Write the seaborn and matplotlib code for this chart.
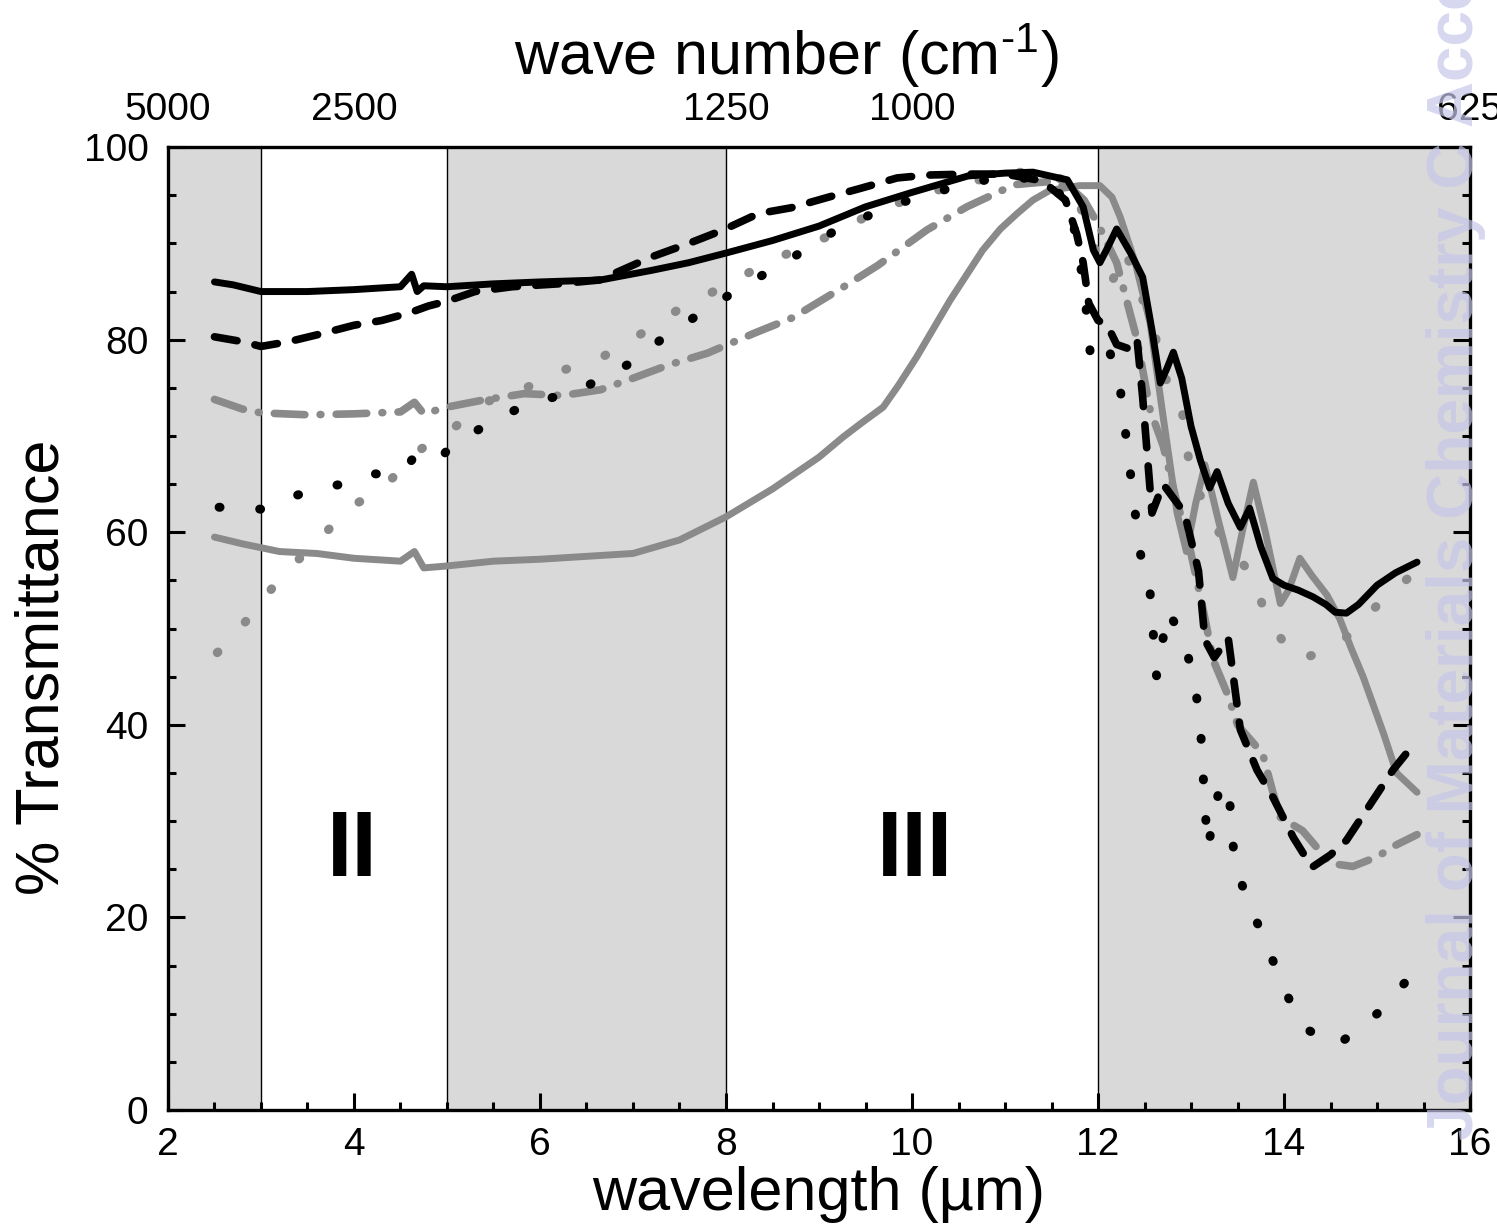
import matplotlib
matplotlib.use("Agg")
import matplotlib.pyplot as plt
import seaborn as sns
from matplotlib.ticker import MultipleLocator, FixedLocator

# ---- data (wavelength in um, % transmittance) ----
bs_x = [2.5, 2.7, 3.0, 3.5, 4.0, 4.5, 4.62, 4.68, 4.75, 5.0, 5.5, 6.0, 6.65, 7.2, 7.6,
        8.0, 8.5, 9.0, 9.5, 10.0, 10.6, 11.0, 11.3, 11.67, 11.84, 11.95, 12.02, 12.1,
        12.2, 12.35, 12.48, 12.58, 12.67, 12.74, 12.81, 12.9, 13.0, 13.1, 13.2, 13.28,
        13.4, 13.53, 13.63, 13.75, 13.88, 14.0, 14.15, 14.31, 14.45, 14.55, 14.67,
        14.8, 15.0, 15.2, 15.43]
bs_y = [86.0, 85.7, 85.0, 85.0, 85.2, 85.5, 86.8, 85.0, 85.6, 85.5, 85.8, 86.0, 86.2,
        87.2, 88.0, 89.0, 90.3, 91.8, 93.8, 95.3, 97.0, 97.3, 97.4, 96.6, 93.8, 89.3,
        88.0, 89.5, 91.5, 89.0, 86.5, 81.0, 75.5, 77.0, 78.7, 76.0, 71.0, 67.5, 64.6,
        66.3, 63.0, 60.5, 62.5, 58.5, 55.2, 54.5, 54.0, 53.3, 52.5, 51.7, 51.6, 52.5,
        54.5, 55.8, 56.9]

gs_x = [2.5, 2.8, 3.2, 3.6, 4.0, 4.5, 4.65, 4.75, 5.0, 5.5, 6.0, 6.5, 7.0, 7.5, 8.0,
        8.5, 9.0, 9.26, 9.45, 9.69, 9.85, 10.05, 10.41, 10.76, 10.95, 11.13, 11.3,
        11.48, 11.8, 12.02, 12.15, 12.24, 12.4, 12.56, 12.7, 12.85, 12.95, 13.05, 13.15,
        13.3, 13.45, 13.55, 13.67, 13.8, 13.96, 14.05, 14.17, 14.3, 14.46, 14.6, 14.72,
        14.85, 15.07, 15.21, 15.43]
gs_y = [59.5, 58.8, 58.0, 57.8, 57.3, 57.0, 58.0, 56.3, 56.5, 57.0, 57.2, 57.5, 57.8,
        59.2, 61.6, 64.5, 67.8, 69.9, 71.3, 73.0, 75.2, 78.2, 84.1, 89.3, 91.5, 93.1,
        94.5, 95.5, 96.0, 96.0, 94.8, 92.7, 88.0, 81.7, 72.0, 62.0, 58.0, 63.0, 67.0,
        61.0, 55.3, 60.0, 65.2, 60.0, 52.6, 54.0, 57.3, 55.5, 53.5, 51.0, 48.0, 45.0,
        39.1, 35.0, 33.0]

bd_x = [2.5, 2.8, 3.0, 3.3, 3.6, 4.0, 4.3, 4.6, 4.8, 5.0, 5.3, 5.7, 6.2, 6.64, 7.2, 7.6,
        7.97, 8.35, 8.7, 9.1, 9.44, 9.84, 10.17, 10.6, 11.0, 11.4, 11.65, 11.77, 11.84,
        11.9, 12.0, 12.1, 12.2, 12.35, 12.42, 12.48, 12.53, 12.58, 12.7, 12.93, 13.08,
        13.15, 13.25, 13.4, 13.53, 13.71, 13.88, 14.1, 14.3, 14.5, 14.67, 14.89, 15.17,
        15.43]
bd_y = [80.3, 79.8, 79.3, 79.8, 80.5, 81.5, 82.0, 82.8, 83.5, 84.0, 85.0, 85.5, 85.8,
        86.2, 88.6, 90.0, 91.4, 93.1, 93.7, 94.8, 95.7, 96.8, 97.1, 97.2, 97.2, 96.5,
        94.5, 91.0, 88.0, 83.8, 82.0, 81.5, 79.5, 79.0, 80.0, 74.0, 68.0, 62.0, 65.0,
        62.0, 56.0, 48.8, 47.0, 49.0, 39.5, 35.3, 32.5, 28.3, 25.2, 26.5, 28.0, 31.2,
        35.3, 38.4]

gd_x = [2.5, 2.8, 3.0, 3.5, 4.0, 4.5, 4.65, 4.75, 5.0, 5.37, 5.83, 6.24, 6.65, 7.0,
        7.39, 7.8, 8.31, 8.72, 9.25, 9.63, 10.16, 10.59, 11.1, 11.45, 11.7, 11.85, 12.0,
        12.2, 12.42, 12.56, 12.7, 12.85, 12.95, 13.13, 13.24, 13.4, 13.5, 13.77, 13.88,
        13.96, 14.2, 14.5, 14.74, 15.0, 15.2, 15.43]
gd_y = [73.8, 72.8, 72.4, 72.2, 72.3, 72.5, 73.5, 72.3, 73.0, 73.7, 74.4, 74.2, 74.8,
        76.0, 77.4, 78.6, 80.7, 82.3, 85.4, 87.7, 91.4, 93.8, 96.1, 96.4, 95.8, 94.5,
        92.0, 88.0, 80.0, 72.7, 69.0, 63.0, 60.0, 52.0, 46.7, 43.0, 40.0, 37.0, 33.0,
        30.4, 29.0, 25.6, 25.3, 26.3, 27.5, 28.6]

gt_x = [2.53, 2.72, 3.0, 3.25, 3.69, 3.95, 4.26, 4.41, 4.65, 4.73, 4.98, 5.41, 5.85,
        6.24, 6.67, 7.12, 7.53, 7.75, 8.19, 8.63, 9.09, 9.53, 9.98, 10.41, 10.86, 11.3,
        11.73, 11.88, 12.02, 12.15, 12.29, 12.45, 12.6, 12.72, 12.88, 13.0, 13.3, 13.67,
        13.82, 14.14, 14.57, 15.0, 15.4]
gt_y = [47.5, 49.3, 52.8, 55.7, 59.9, 62.6, 64.2, 65.6, 68.0, 68.7, 70.1, 73.5, 75.0,
        76.8, 78.2, 80.8, 83.4, 84.4, 86.7, 88.8, 90.7, 92.9, 94.7, 95.9, 96.9, 97.6,
        96.3, 91.7, 88.0, 86.0, 89.3, 85.0, 81.0, 76.0, 74.4, 65.7, 60.0, 55.3, 50.9,
        46.7, 48.1, 52.4, 55.8]

kd_x = [2.55, 2.8, 3.0, 3.19, 3.37, 3.64, 3.93, 4.17, 4.36, 4.57, 4.65, 4.8, 4.92, 5.04,
        5.29, 5.59, 5.88, 6.1, 6.42, 6.67, 6.98, 7.34, 7.75, 8.19, 8.63, 9.2, 9.8, 10.5,
        11.0, 11.45, 11.7, 11.85, 11.93, 12.13, 12.24, 12.35, 12.45, 12.56, 12.63, 12.75,
        12.93, 13.04, 13.1, 13.15, 13.18, 13.29, 13.4, 13.47, 13.63, 13.82, 13.99, 14.2,
        14.57, 15.0, 15.39]
kd_y = [62.6, 62.5, 62.4, 63.1, 63.8, 64.6, 65.1, 66.1, 66.0, 66.8, 67.9, 68.0, 67.5,
        69.0, 70.4, 72.0, 73.4, 73.9, 74.8, 76.0, 77.6, 80.3, 82.9, 85.6, 88.0, 91.5,
        94.0, 96.0, 97.0, 96.5, 94.0, 85.5, 77.2, 78.6, 74.8, 66.0, 58.0, 53.7, 45.0,
        51.9, 48.6, 44.3, 40.0, 31.4, 27.2, 32.7, 34.0, 25.4, 21.3, 17.0, 12.8, 8.6,
        6.7, 10.0, 14.2]

shaded_bands = [(2, 3), (5, 8), (12, 16)]
band_edges = [3, 5, 8, 12]
region_labels = ["II", "III"]
region_pos = [(3.98, 26.8), (10.03, 26.8)]
top_ticks = [2, 4, 8, 10, 16]

sns.set_theme(style="ticks")
plt.rcParams["font.family"] = ["Liberation Sans", "DejaVu Sans"]
plt.rcParams["mathtext.fontset"] = "custom"
plt.rcParams["mathtext.rm"] = "Liberation Sans"
plt.rcParams["mathtext.it"] = "Liberation Sans:italic"
plt.rcParams["text.color"] = "black"
plt.rcParams["axes.labelcolor"] = "black"

BLACK = "#000000"
GREY = "#8a8a8a"
SHADE = "#d9d9d9"

fig, ax = plt.subplots(figsize=(14.97, 12.26), dpi=100)
fig.subplots_adjust(left=0.1122, right=0.982, bottom=0.0946, top=0.880)

for a, b in shaded_bands:
    ax.axvspan(a, b, color=SHADE, lw=0, zorder=0)
for e in band_edges:
    ax.axvline(e, color="black", lw=1.0, zorder=1)

def draw(x, y, color, ls, lw):
    sns.lineplot(x=x, y=y, ax=ax, color=color, linestyle=ls, linewidth=lw,
                 sort=False, estimator=None, dash_capstyle="round",
                 solid_capstyle="round", solid_joinstyle="round", zorder=3)

draw(gs_x, gs_y, GREY, "-", 5.0)
draw(gt_x, gt_y, GREY, (0, (0.1, 4.5)), 6.5)
draw(gd_x, gd_y, GREY, (0, (4.0, 2.0, 0.1, 2.0)), 5.5)
draw(kd_x, kd_y, BLACK, (0, (0.1, 4.4)), 6.5)
draw(bd_x, bd_y, BLACK, (0, (3.0, 2.4)), 5.5)
draw(bs_x, bs_y, BLACK, "-", 5.0)

for lab, (px, py) in zip(region_labels, region_pos):
    ax.text(px, py, lab, ha="center", va="center", fontsize=66,
            fontweight="bold", color="black", zorder=4)

ax.set_xlim(2, 16)
ax.set_ylim(0, 100)
ax.xaxis.set_major_locator(MultipleLocator(2))
ax.xaxis.set_minor_locator(MultipleLocator(0.5))
ax.yaxis.set_major_locator(MultipleLocator(20))
ax.yaxis.set_minor_locator(MultipleLocator(5))
ax.tick_params(which="both", direction="in", top=True, right=True,
               width=2.2, colors="black", labelsize=28)
ax.tick_params(which="major", length=12)
ax.tick_params(which="minor", length=6)
ax.tick_params(axis="x", pad=12)
ax.tick_params(axis="y", pad=14)
for sp in ax.spines.values():
    sp.set_linewidth(2.4)
    sp.set_color("black")
    sp.set_zorder(5)

ax.set_xlabel("wavelength (µm)", fontsize=44)
ax.xaxis.set_label_coords(0.5, -0.058)
ax.set_ylabel("% Transmittance", fontsize=44)
ax.yaxis.set_label_coords(-0.074, 0.46)

# top axis: wave number labels
ax2 = ax.twiny()
ax2.set_xlim(ax.get_xlim())
ax2.xaxis.set_major_locator(FixedLocator(top_ticks))
ax2.set_xticklabels([f"{10000 / t:g}" for t in top_ticks])
ax2.tick_params(axis="x", length=0, pad=14, labelsize=28, colors="black")
ax2.xaxis.set_minor_locator(FixedLocator([]))
for sp in ax2.spines.values():
    sp.set_visible(False)
ax2.set_xlabel(r"wave number (cm$^{\text{-1}}$)", fontsize=44)
ax2.xaxis.set_label_coords(0.475, 1.075)

fig.text(1473 / 1497, 1 - 1140 / 1226,
         "Journal of Materials Chemistry C Accepted Manuscript",
         rotation=90, rotation_mode="anchor", ha="left", va="baseline",
         fontsize=46, fontweight="bold", color="#c6c6ea", alpha=0.7, zorder=10)

fig.savefig("out.png", dpi=100)
